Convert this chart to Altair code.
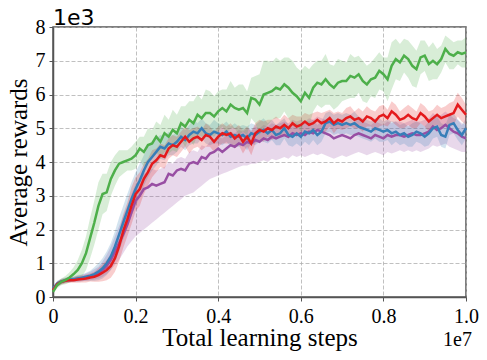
import altair as alt
import pandas as pd

# x in units of 1e7 steps, y in units of 1e3 reward
steps = [i / 100 for i in range(101)]

green_mean = [0.15,0.35,0.45,0.5,0.58,0.68,0.8,1.0,1.3,1.75,
              2.2,2.7,3.05,3.1,3.5,3.75,3.95,4.0,4.05,4.1,
              4.2,4.4,4.3,4.5,4.55,4.75,4.6,4.85,4.75,4.95,
              4.85,5.15,5.05,5.25,5.15,5.4,5.3,5.45,5.45,5.35,
              5.5,5.6,5.5,5.7,5.6,5.55,5.6,5.45,5.9,5.85,
              5.7,6.0,6.05,6.1,6.2,6.15,6.3,6.2,6.05,5.95,
              5.8,6.05,5.9,6.2,6.35,6.3,6.45,6.3,6.2,6.35,
              6.4,6.4,6.55,6.5,6.6,6.4,6.3,6.45,6.5,6.7,
              6.6,6.45,6.85,7.05,6.95,7.15,7.05,6.85,6.75,7.1,
              7.15,6.9,7.0,6.9,7.05,7.35,7.2,7.15,7.25,7.2,7.25]
green_spread = [0.05,0.1,0.1,0.12,0.15,0.2,0.3,0.4,0.5,0.6,
                0.65,0.7,0.6,0.55,0.5,0.45,0.4,0.35,0.3,0.35,
                0.4,0.35,0.45,0.5,0.4,0.45,0.5,0.55,0.5,0.6,
                0.55,0.5,0.6,0.55,0.65,0.6,0.55,0.7,0.65,0.6,
                0.6,0.55,0.65,0.7,0.6,0.75,0.7,0.65,0.6,0.7,
                0.9,1.0,0.95,0.85,0.9,0.85,0.8,0.9,0.95,0.85,
                0.9,0.8,0.85,0.7,0.65,0.7,0.75,0.6,0.65,0.7,
                0.6,0.55,0.65,0.6,0.55,0.6,0.55,0.5,0.6,0.55,
                0.5,0.65,0.7,0.6,0.55,0.5,0.55,0.6,0.55,0.5,
                0.45,0.5,0.55,0.45,0.4,0.4,0.45,0.4,0.35,0.4,0.45]

red_mean = [0.2,0.38,0.45,0.48,0.5,0.5,0.52,0.53,0.55,0.58,
            0.6,0.65,0.72,0.8,0.92,1.15,1.5,1.95,2.3,2.7,
            3.05,3.2,3.5,3.7,3.95,4.05,4.2,4.15,4.4,4.5,
            4.45,4.6,4.75,4.6,4.7,4.75,4.65,4.8,4.75,4.6,
            4.75,4.85,4.8,4.85,4.7,4.8,4.6,4.75,4.55,4.85,
            4.95,4.9,5.0,4.95,5.05,5.0,5.1,5.0,5.15,5.05,
            5.1,5.2,5.1,5.15,5.25,5.15,5.2,5.3,5.15,5.25,
            5.2,5.3,5.35,5.25,5.3,5.2,5.35,5.3,5.2,5.35,
            5.4,5.3,5.5,5.4,5.25,5.3,5.4,5.3,5.25,5.45,
            5.35,5.2,5.3,5.4,5.3,5.35,5.4,5.45,5.7,5.55,5.4]
red_spread = [0.05,0.08,0.08,0.08,0.08,0.08,0.1,0.1,0.12,0.12,
              0.15,0.2,0.25,0.3,0.35,0.4,0.45,0.5,0.5,0.55,
              0.5,0.5,0.45,0.4,0.4,0.35,0.35,0.35,0.3,0.3,
              0.3,0.3,0.3,0.35,0.3,0.3,0.3,0.35,0.3,0.3,
              0.3,0.3,0.25,0.3,0.3,0.3,0.35,0.3,0.35,0.3,
              0.3,0.3,0.25,0.3,0.3,0.25,0.3,0.3,0.25,0.3,
              0.25,0.25,0.3,0.3,0.25,0.3,0.3,0.25,0.3,0.25,
              0.25,0.3,0.3,0.25,0.3,0.3,0.3,0.25,0.3,0.3,
              0.3,0.25,0.3,0.3,0.25,0.3,0.3,0.3,0.25,0.3,
              0.3,0.3,0.25,0.3,0.3,0.3,0.35,0.35,0.35,0.35,0.3]

blue_mean = [0.25,0.4,0.46,0.5,0.52,0.53,0.55,0.57,0.6,0.63,
             0.68,0.75,0.85,1.0,1.2,1.5,1.85,2.2,2.55,2.9,
             3.2,3.45,3.75,4.0,4.15,4.3,4.45,4.4,4.55,4.5,
             4.6,4.75,4.65,4.8,4.9,4.85,5.0,4.85,4.8,4.9,
             4.85,4.8,4.9,4.75,4.8,4.75,4.8,4.7,4.85,4.8,
             4.9,4.95,4.85,4.95,4.8,4.85,5.0,4.8,4.75,4.85,
             4.75,4.9,4.85,4.95,4.8,4.9,5.15,5.2,5.1,5.15,
             5.1,5.15,5.1,5.15,5.05,5.0,4.95,4.9,5.0,4.95,
             4.9,4.95,4.85,4.9,4.8,4.85,4.75,4.8,4.9,4.85,
             4.75,4.85,5.0,5.05,4.8,4.75,5.1,5.15,4.95,4.8,5.0]
blue_spread = [0.05,0.08,0.08,0.08,0.08,0.08,0.1,0.1,0.12,0.15,
               0.2,0.25,0.3,0.35,0.4,0.45,0.5,0.5,0.5,0.5,
               0.5,0.5,0.45,0.45,0.4,0.4,0.35,0.35,0.35,0.3,
               0.3,0.3,0.3,0.3,0.35,0.3,0.3,0.3,0.3,0.35,
               0.3,0.3,0.3,0.3,0.35,0.3,0.3,0.35,0.3,0.3,
               0.3,0.35,0.3,0.3,0.3,0.35,0.3,0.3,0.3,0.3,
               0.3,0.3,0.35,0.3,0.3,0.3,0.3,0.3,0.3,0.3,
               0.3,0.3,0.3,0.35,0.3,0.3,0.3,0.3,0.3,0.35,
               0.3,0.3,0.35,0.3,0.3,0.3,0.3,0.35,0.3,0.3,
               0.3,0.35,0.3,0.3,0.35,0.35,0.3,0.3,0.3,0.3,0.3]

purple_mean = [0.2,0.38,0.45,0.48,0.5,0.52,0.54,0.56,0.58,0.6,
               0.65,0.7,0.8,0.92,1.1,1.35,1.6,1.85,2.15,2.5,
               2.85,3.0,3.2,3.25,3.35,3.3,3.35,3.4,3.65,3.6,
               3.75,3.8,3.75,3.95,4.0,3.95,4.15,4.1,4.25,4.3,
               4.4,4.3,4.4,4.5,4.45,4.55,4.5,4.6,4.55,4.65,
               4.6,4.7,4.65,4.75,4.7,4.75,4.8,4.75,4.85,4.8,
               4.85,4.8,4.9,4.85,4.95,4.9,4.85,4.8,4.7,4.75,
               4.8,4.75,4.7,4.8,4.85,4.8,4.75,4.7,4.8,4.75,
               4.7,4.8,4.75,4.8,4.8,4.75,4.8,4.85,4.8,4.8,
               4.85,4.9,5.05,4.95,5.0,5.1,5.0,4.9,4.85,4.75,4.7]
purple_low = [0.12,0.3,0.38,0.42,0.44,0.45,0.46,0.47,0.48,0.5,
              0.52,0.55,0.6,0.68,0.8,0.95,1.1,1.3,1.5,1.65,
              1.8,1.9,2.0,2.1,2.2,2.3,2.4,2.5,2.6,2.7,
              2.8,2.9,3.0,3.05,3.1,3.2,3.3,3.4,3.5,3.55,
              3.6,3.65,3.7,3.75,3.8,3.85,3.9,3.9,3.95,3.95,
              4.0,4.05,4.0,4.1,4.05,4.1,4.15,4.1,4.2,4.15,
              4.2,4.15,4.2,4.25,4.2,4.25,4.2,4.15,4.1,4.15,
              4.2,4.15,4.2,4.25,4.3,4.25,4.2,4.25,4.3,4.25,
              4.2,4.3,4.25,4.3,4.35,4.3,4.35,4.3,4.35,4.3,
              4.35,4.4,4.5,4.45,4.5,4.55,4.45,4.4,4.35,4.3,4.3]
purple_high = [0.28,0.45,0.52,0.55,0.57,0.6,0.63,0.66,0.7,0.75,
               0.82,0.9,1.05,1.25,1.5,1.8,2.1,2.4,2.7,3.05,
               3.35,3.5,3.65,3.7,3.8,3.75,3.8,3.85,4.0,3.95,
               4.1,4.15,4.1,4.3,4.35,4.3,4.5,4.45,4.6,4.65,
               4.75,4.7,4.8,4.9,4.85,4.95,4.9,5.0,4.95,5.05,
               5.0,5.1,5.05,5.15,5.1,5.15,5.2,5.15,5.25,5.2,
               5.25,5.2,5.3,5.25,5.35,5.3,5.25,5.2,5.1,5.15,
               5.2,5.15,5.1,5.2,5.25,5.2,5.15,5.1,5.2,5.15,
               5.1,5.2,5.15,5.2,5.2,5.15,5.2,5.25,5.2,5.2,
               5.25,5.3,5.45,5.35,5.4,5.5,5.4,5.3,5.25,5.15,5.1]

series_names = ["purple", "blue", "red", "green"]
series_colors = ["#984ea3", "#377eb8", "#e41a1c", "#4daf4a"]

x_ticks = [0, 0.2, 0.4, 0.6, 0.8, 1.0]
y_ticks = [0, 1, 2, 3, 4, 5, 6, 7, 8]

rows = []
def add(name, mean, lo, hi):
    for s, m, l, h in zip(steps, mean, lo, hi):
        rows.append({"step": s, "mean": m, "lo": l, "hi": h, "series": name})

add("purple", purple_mean, purple_low, purple_high)
add("blue", blue_mean, [m - d for m, d in zip(blue_mean, blue_spread)],
    [m + d for m, d in zip(blue_mean, blue_spread)])
add("red", red_mean, [m - d for m, d in zip(red_mean, red_spread)],
    [m + d for m, d in zip(red_mean, red_spread)])
add("green", green_mean, [m - d for m, d in zip(green_mean, green_spread)],
    [m + d for m, d in zip(green_mean, green_spread)])
df = pd.DataFrame(rows)

serif = "Liberation Serif"
color = alt.Color("series:N", scale=alt.Scale(domain=series_names, range=series_colors), legend=None)

xaxis = alt.Axis(values=x_ticks, title="Total learning steps",
                 labelExpr="datum.value == 0 ? '0' : format(datum.value, '.1f')",
                 labelFlush=False, labelOverlap=False, labelPadding=5, titleY=48,
                 titleBaseline="alphabetic")
yaxis = alt.Axis(values=y_ticks, title="Average rewards", labelFlush=False,
                 labelOverlap=False, labelPadding=4, titleX=-27, titleY=135,
                 titleAngle=270, titleBaseline="alphabetic", format="d")
xscale = alt.Scale(domain=[0, 1], nice=False)
yscale = alt.Scale(domain=[0, 8], nice=False)

base = alt.Chart(df)
bands = base.mark_area(opacity=0.22).encode(
    x=alt.X("step:Q", scale=xscale, axis=xaxis),
    y=alt.Y("lo:Q", scale=yscale, axis=yaxis),
    y2="hi:Q",
    color=color,
    detail="series:N",
)
lines = base.mark_line(strokeWidth=2.5).encode(
    x=alt.X("step:Q", scale=xscale, axis=xaxis),
    y=alt.Y("mean:Q", scale=yscale, axis=yaxis),
    color=color,
)
exp_x = alt.Chart(pd.DataFrame({"t": ["1e7"]})).mark_text(
    font=serif, fontSize=20, align="right", baseline="alphabetic", color="black"
).encode(text="t:N", x=alt.value(419), y=alt.value(319))
exp_y = alt.Chart(pd.DataFrame({"t": ["1e3"]})).mark_text(
    font="DejaVu Sans", fontSize=22, align="left", baseline="alphabetic", color="black"
).encode(text="t:N", x=alt.value(0), y=alt.value(-2))

chart = alt.layer(bands, lines, exp_x, exp_y).properties(
    width=413, height=270,
    autosize=alt.AutoSizeParams(type="none"),
    padding={"left": 45, "top": 19, "right": 13, "bottom": 55},
).configure_view(
    stroke="#555555", strokeWidth=1.5
).configure_axis(
    labelFont=serif, labelFontSize=20, labelColor="black",
    titleFont=serif, titleFontSize=25, titleFontWeight="normal", titleColor="black",
    gridColor="#b0b0b0", gridDash=[4, 2], gridWidth=0.8,
    tickColor="#555555", tickSize=4, domainColor="#555555", domainWidth=1.5,
)

chart.save("out.html", embed_options={"renderer": "svg", "actions": False})
